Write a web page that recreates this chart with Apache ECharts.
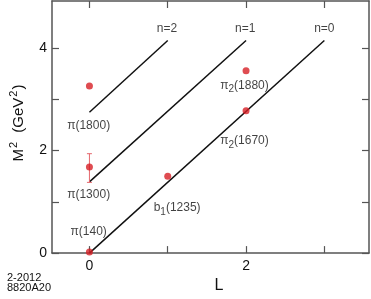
<!DOCTYPE html>
<html>
<head>
<meta charset="utf-8">
<script src="https://cdn.jsdelivr.net/npm/echarts@6/dist/echarts.min.js"></script>
<style>html,body{margin:0;padding:0;background:#fff}#c{width:371px;height:299px}</style>
</head>
<body>
<div id="c"></div>
<script>
// Regge trajectories (black lines)
const trajNames = ['n=0', 'n=1', 'n=2'];
const trajStartL = [0, 0, 0];
const trajStartM2 = [0, 1.39, 2.75];
const trajEndL = [3, 2, 1];
const trajEndM2 = [4.15, 4.15, 4.15];
const trajLabelL = [3.0, 1.99, 0.99];
const trajLabelM2 = [4.37, 4.37, 4.37];

// Mesons (red points): symbol, subscript, mass
const mesonSymbol = ['π', 'π', 'π', 'b', 'π', 'π'];
const mesonSub = ['', '', '', '1', '2', '2'];
const mesonMass = ['(140)', '(1300)', '(1800)', '(1235)', '(1670)', '(1880)'];
const mesonL = [0, 0, 0, 1, 2, 2];
const mesonM2 = [0.02, 1.68, 3.26, 1.50, 2.78, 3.56];
const mesonLabelL = [-0.01, -0.01, -0.01, 1.12, 1.98, 1.98];
const mesonLabelM2 = [0.42, 1.14, 2.49, 0.88, 2.19, 3.27];

// Error bar (π(1300))
const errL = [0];
const errLow = [1.38];
const errHigh = [1.94];

// Axis ticks and labels
const xTicks = [0, 1, 2, 3];
const xTickLabels = [0, 2];
const yTicks = [0, 1, 2, 3, 4];
const yTickLabels = [0, 2, 4];

const FONT = '"Liberation Sans", Arial, Helvetica, sans-serif';
const AXIS_COLOR = '#555';
const RED = '#d71f26';
const TEXT = '#111';

const chart = echarts.init(document.getElementById('c'));

const axisCommon = {
  axisLine: { show: true, onZero: false, lineStyle: { color: AXIS_COLOR, width: 1.5 } },
  splitLine: { show: false }
};

const lineSeries = trajNames.map((n, i) => ({
  type: 'line',
  name: n,
  data: [[trajStartL[i], trajStartM2[i]], [trajEndL[i], trajEndM2[i]]],
  symbol: 'none',
  lineStyle: { color: '#111', width: 1.5 },
  clip: false,
  silent: true,
  z: 3
}));

const labelRich = {
  a: { fontFamily: FONT, fontSize: 12, color: TEXT, lineHeight: 18, verticalAlign: 'middle', textBorderWidth: 0 },
  s: { fontFamily: FONT, fontSize: 10, color: TEXT, lineHeight: 10, verticalAlign: 'bottom', textBorderWidth: 0 }
};

function mesonLabel(i) {
  let t = '{a|' + mesonSymbol[i] + '}';
  if (mesonSub[i]) t += '{s|' + mesonSub[i] + '}';
  return t + '{a|' + mesonMass[i] + '}';
}

const option = {
  animation: false,
  grid: { left: 50, right: 2, top: 1, bottom: 45, containLabel: false },
  xAxis: [
    Object.assign({}, axisCommon, {
      type: 'value', min: -0.478, max: 3.57, position: 'bottom',
      name: 'L', nameLocation: 'middle', nameGap: 23,
      nameTextStyle: { fontFamily: FONT, fontSize: 16, color: TEXT, padding: [0, 0, 0, 17] },
      axisTick: { show: true, inside: true, length: 7, customValues: xTicks, lineStyle: { color: AXIS_COLOR, width: 1.2 } },
      axisLabel: { show: true, customValues: xTickLabels, margin: 6, fontFamily: FONT, fontSize: 14, color: TEXT }
    }),
    Object.assign({}, axisCommon, {
      type: 'value', min: -0.478, max: 3.57, position: 'top',
      axisTick: { show: true, inside: true, length: 7, customValues: xTicks, lineStyle: { color: AXIS_COLOR, width: 1.2 } },
      axisLabel: { show: false }
    })
  ],
  yAxis: [
    Object.assign({}, axisCommon, {
      type: 'value', min: 0, max: 4.92, position: 'left',
      name: '{a|M}{p|2}{a|  (GeV}{p|2}{a|)}', nameLocation: 'middle', nameGap: 26, nameRotate: 90,
      nameTextStyle: {
        rich: {
          a: { fontFamily: FONT, fontSize: 15, color: TEXT, lineHeight: 18, verticalAlign: 'bottom' },
          p: { fontFamily: FONT, fontSize: 11, color: TEXT, lineHeight: 11, verticalAlign: 'top', padding: [0, 1, 0, 1] }
        },
        padding: [0, 0, 0, 8]
      },
      axisTick: { show: true, inside: true, length: 7, customValues: yTicks, lineStyle: { color: AXIS_COLOR, width: 1.2 } },
      axisLabel: { show: true, customValues: yTickLabels, margin: 5, fontFamily: FONT, fontSize: 14, color: TEXT }
    }),
    Object.assign({}, axisCommon, {
      type: 'value', min: 0, max: 4.92, position: 'right',
      axisTick: { show: true, inside: true, length: 7, customValues: yTicks, lineStyle: { color: AXIS_COLOR, width: 1.2 } },
      axisLabel: { show: false }
    })
  ],
  series: [
    ...lineSeries,
    {
      type: 'custom',
      name: 'error',
      data: errL.map((l, i) => [l, errLow[i], errHigh[i]]),
      renderItem: function (params, api) {
        const x = api.value(0);
        const lo = api.coord([x, api.value(1)]);
        const hi = api.coord([x, api.value(2)]);
        const cap = 2.5;
        const st = { stroke: '#e4676d', lineWidth: 1 };
        return {
          type: 'group',
          children: [
            { type: 'line', shape: { x1: lo[0], y1: lo[1], x2: hi[0], y2: hi[1] }, style: st },
            { type: 'line', shape: { x1: lo[0] - cap, y1: lo[1], x2: lo[0] + cap, y2: lo[1] }, style: st },
            { type: 'line', shape: { x1: hi[0] - cap, y1: hi[1], x2: hi[0] + cap, y2: hi[1] }, style: st }
          ]
        };
      },
      clip: false,
      z: 4
    },
    {
      type: 'scatter',
      name: 'mesons',
      data: mesonL.map((l, i) => [l, mesonM2[i]]),
      symbol: 'circle',
      symbolSize: 7,
      itemStyle: { color: RED },
      clip: false,
      z: 5
    },
    {
      type: 'scatter',
      name: 'labels',
      data: mesonSymbol.map((s, i) => ({ value: [mesonLabelL[i], mesonLabelM2[i]], name: mesonLabel(i) }))
        .concat(trajNames.map((n, i) => ({ value: [trajLabelL[i], trajLabelM2[i]], name: '{a|' + n + '}' }))),
      symbolSize: 0,
      silent: true,
      clip: false,
      label: {
        show: true,
        position: 'inside',
        color: TEXT,
        textBorderWidth: 0,
        formatter: p => p.name,
        rich: labelRich
      },
      z: 6
    }
  ],
  graphic: [
    { type: 'text', left: 7, top: 272, style: { text: '2-2012', fontFamily: FONT, fontSize: 11, fill: TEXT } },
    { type: 'text', left: 7, top: 282, style: { text: '8820A20', fontFamily: FONT, fontSize: 11, fill: TEXT } }
  ]
};

chart.setOption(option);
</script>
</body>
</html>
